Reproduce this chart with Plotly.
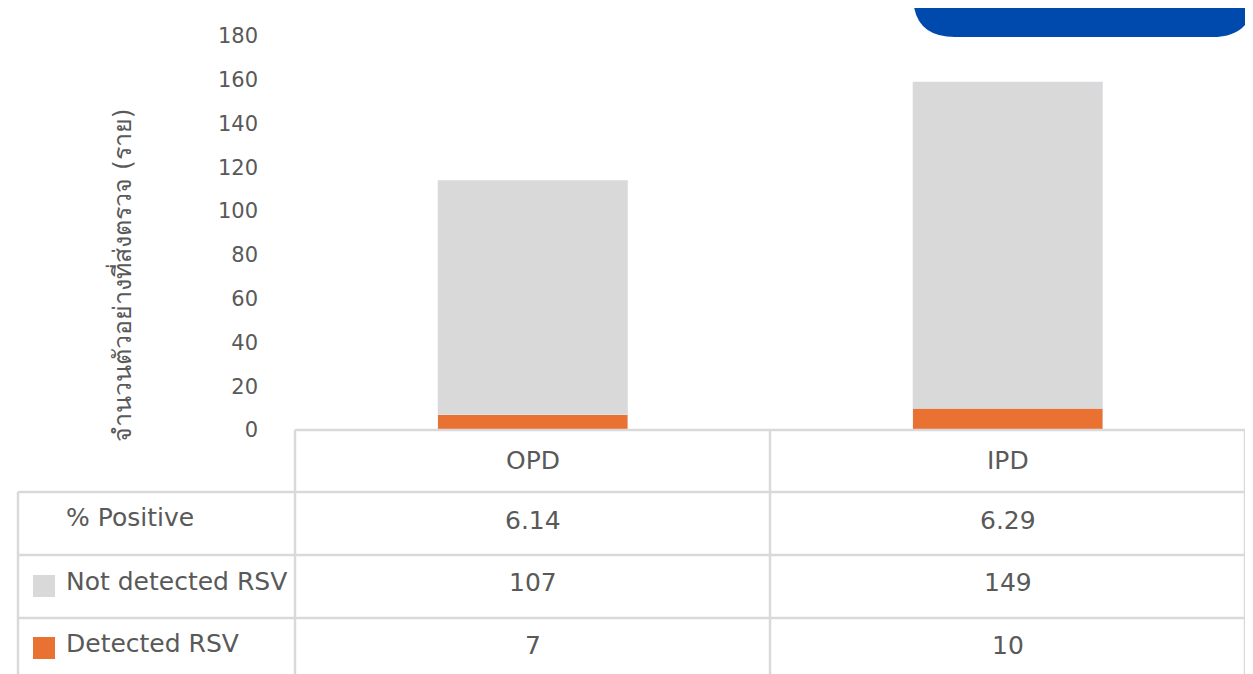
import plotly.graph_objects as go

# the page body has an 8px margin, so the figure is drawn 8px smaller
# and every layout position is measured from the screenshot origin
OFF = 8
W, H = 1253 - OFF, 674 - OFF

categories = ["OPD", "IPD"]
detected = [7, 10]
not_detected = [107, 149]
pct_positive = [6.14, 6.29]
row_labels = ["% Positive", "Not detected RSV", "Detected RSV"]
y_ticks = [0, 20, 40, 60, 80, 100, 120, 140, 160, 180]

GREY = "#d9d9d9"
ORANGE = "#e97132"
TEXT = "#595959"
FONT = "'DejaVu Sans', 'Noto Sans', sans-serif"


def px(x):
    return (x - OFF) / W


def py(y):
    return 1 - (y - OFF) / H


fig = go.Figure()
fig.add_bar(x=categories, y=detected, name="Detected RSV",
            marker_color=ORANGE, width=0.4)
fig.add_bar(x=categories, y=not_detected, name="Not detected RSV",
            marker_color=GREY, width=0.4)

shapes = []
line = dict(color=GREY, width=2.5)
# table grid
for x0, x1, y in [(295, 1245, 430), (18, 1245, 492), (18, 1245, 555), (18, 1245, 618)]:
    shapes.append(dict(type="line", xref="paper", yref="paper",
                       x0=px(x0), x1=px(x1), y0=py(y), y1=py(y), line=line))
for x, y0 in [(18, 492), (295, 430), (770, 430), (1245, 430)]:
    shapes.append(dict(type="line", xref="paper", yref="paper",
                       x0=px(x), x1=px(x), y0=py(y0), y1=py(700), line=line))
# legend keys inside the table
for color, ymid in [(GREY, 586), (ORANGE, 648)]:
    shapes.append(dict(type="rect", xref="paper", yref="paper", line_width=0,
                       x0=px(33), x1=px(55), y0=py(ymid - 11), y1=py(ymid + 11),
                       fillcolor=color))
# blue banner in the corner
r = 42
bx0, bx1, by1 = 913, 1254, 37
path = (f"M {px(bx0)},{py(-20)} "
        f"L {px(bx0)},{py(by1 - r)} "
        f"Q {px(bx0)},{py(by1)} {px(bx0 + r)},{py(by1)} "
        f"L {px(bx1 - r)},{py(by1)} "
        f"Q {px(bx1)},{py(by1)} {px(bx1)},{py(by1 - r)} "
        f"L {px(bx1)},{py(-20)} Z")
shapes.append(dict(type="path", xref="paper", yref="paper", path=path,
                   fillcolor="#004aad", line_width=0))

ann = []
tfont = dict(family=FONT, size=25, color=TEXT)
for i, cat in enumerate(categories):
    cells = [cat, f"{pct_positive[i]:.2f}", str(not_detected[i]), str(detected[i])]
    for text, y in zip(cells, [460, 520, 582, 645]):
        ann.append(dict(x=cat, y=py(y), xref="x", yref="paper", text=text,
                        xanchor="center", yanchor="middle",
                        showarrow=False, font=tfont))
for label, y in zip(row_labels, [518, 581, 643]):
    ann.append(dict(x=px(64), y=py(y), xref="paper", yref="paper", text=label,
                    xanchor="left", yanchor="middle", showarrow=False, font=tfont))
ann.append(dict(x=px(121), y=py(275), xref="paper", yref="paper",
                text="จำนวนตัวอย่างที่ส่งตรวจ (ราย)", textangle=-90,
                xanchor="center", yanchor="middle",
                showarrow=False, font=dict(family=FONT, size=25, color=TEXT)))

fig.update_layout(
    width=W, height=H, barmode="stack", showlegend=False,
    margin=dict(l=0, r=0, t=0, b=0),
    paper_bgcolor="white", plot_bgcolor="white",
    font=dict(family=FONT, color=TEXT),
    shapes=shapes, annotations=ann,
    xaxis=dict(domain=[px(295), px(1245)], range=[-0.5, 1.5], automargin=False,
               showticklabels=False, showgrid=False, zeroline=False),
    yaxis=dict(domain=[py(430), py(36)], range=[0, 180], tickvals=y_ticks,
               automargin=False, showgrid=False, zeroline=False,
               ticklabelstandoff=36,
               tickfont=dict(family=FONT, size=21, color=TEXT)),
)

fig.write_html("out.html", config={"displayModeBar": False})
